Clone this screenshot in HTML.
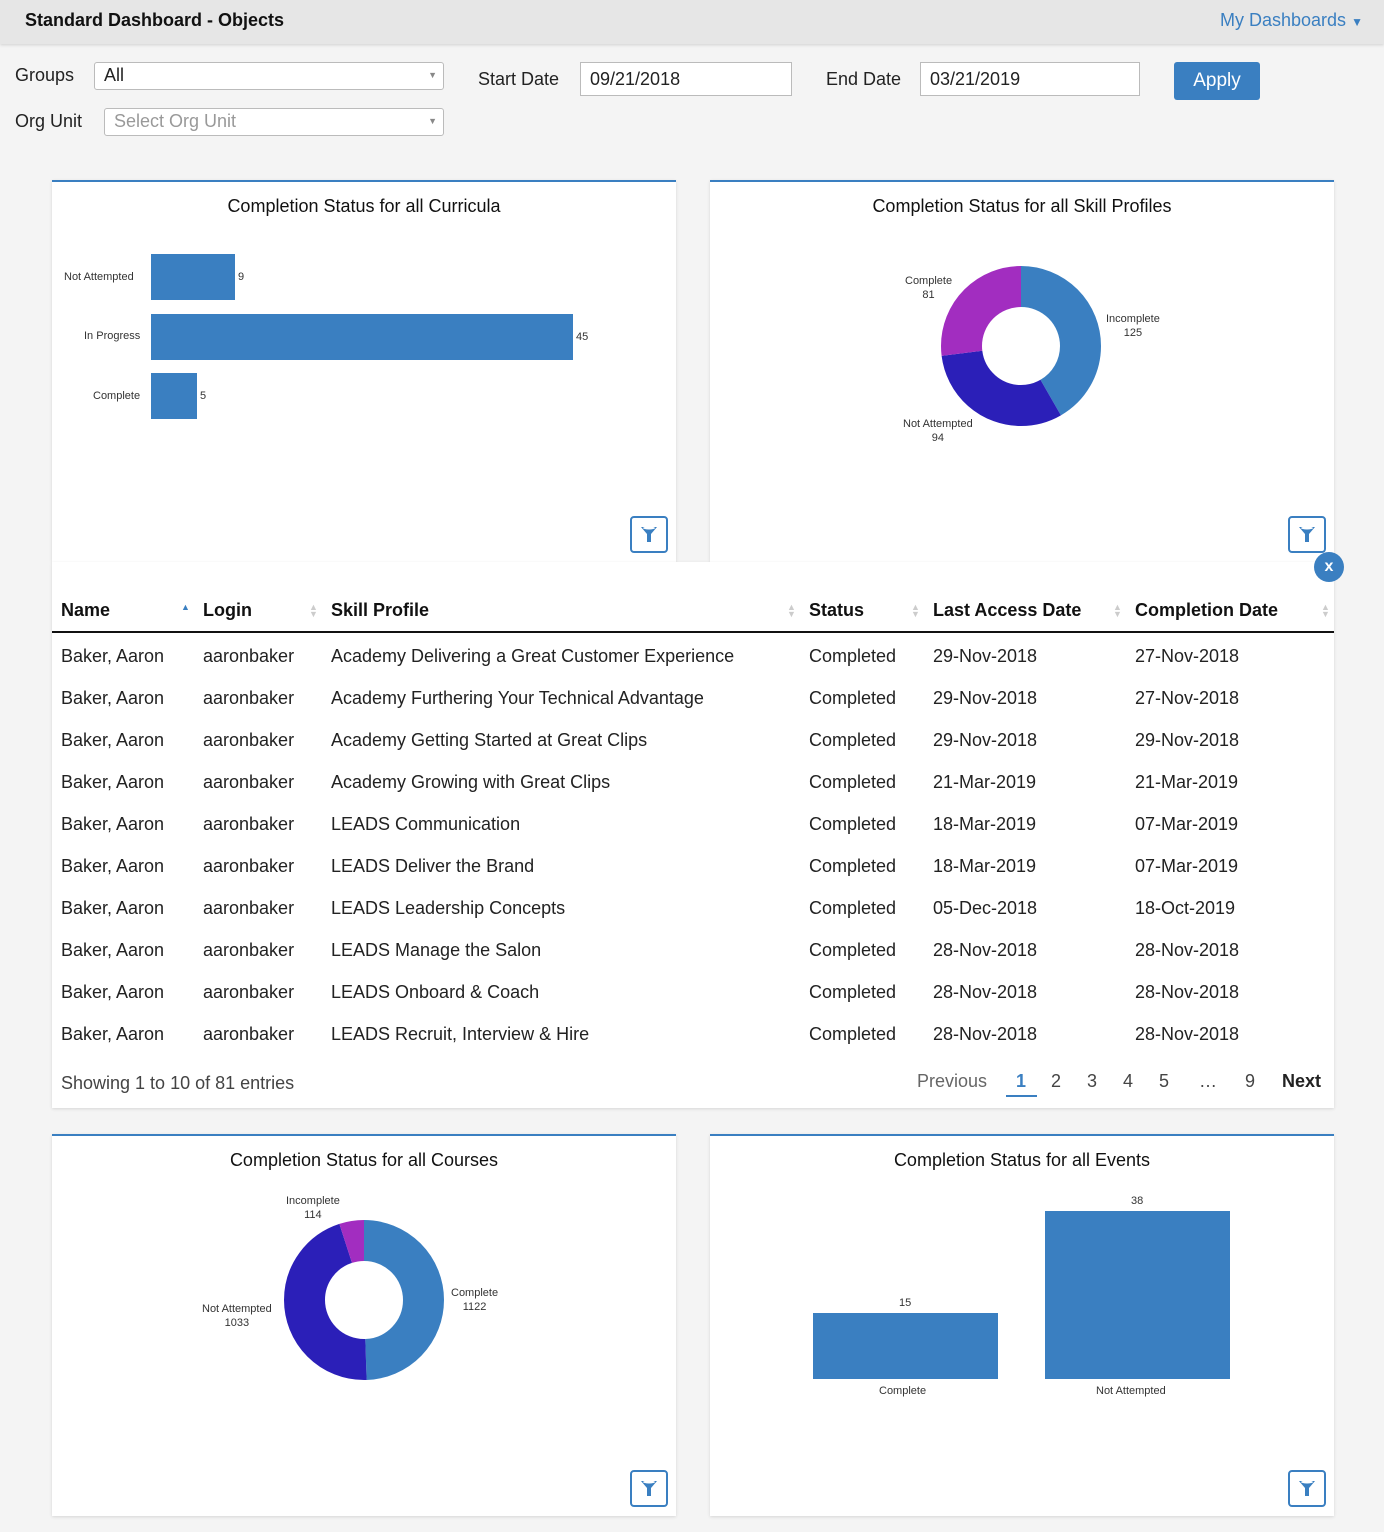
<!DOCTYPE html>
<html><head><meta charset="utf-8"><style>
*{margin:0;padding:0;box-sizing:border-box}
body{width:1384px;height:1532px;background:#f4f4f4;font-family:"Liberation Sans",sans-serif;color:#222;position:relative;overflow:hidden}
.a{position:absolute;white-space:nowrap}
.hdr{position:absolute;left:0;top:0;width:1384px;height:44px;background:#e6e6e6;box-shadow:0 1px 3px rgba(0,0,0,.15)}
.inp{position:absolute;background:#fff;border:1px solid #bbb;border-radius:3px;font-size:18px;padding-left:9px;line-height:24px}
.panel{position:absolute;background:#fff;border-top:2px solid #3a7fc1;box-shadow:0 1px 3px rgba(0,0,0,.12)}
.title{position:absolute;width:100%;text-align:center;font-size:18px;top:14px;color:#111}
.fb{position:absolute;width:38px;height:37px;border:2px solid #3a7fc1;border-radius:4px;background:#fff}
.sm{font-size:11px;color:#333}
.th{font-size:18px;font-weight:bold;color:#111;top:600px}
.td{font-size:18px;color:#222}
.bar{position:absolute;background:#3a7fc1}
.sort{position:absolute;font-size:9px;color:#ccc;line-height:7px;top:604px}
</style></head><body>
<div class="hdr"></div>
<div class="a" style="left:25px;top:10px;font-size:18px;font-weight:bold;color:#111">Standard Dashboard - Objects</div>
<div class="a" style="left:1220px;top:10px;font-size:18px;color:#3a7fc1">My Dashboards <span style="font-size:12px">▼</span></div>

<div class="a" style="left:15px;top:65px;font-size:18px">Groups</div>
<div class="inp" style="left:94px;top:62px;width:350px;height:28px">All<span class="a" style="right:6px;top:0;font-size:9px;color:#888">▼</span></div>
<div class="a" style="left:15px;top:111px;font-size:18px">Org Unit</div>
<div class="inp" style="left:104px;top:108px;width:340px;height:28px;color:#999">Select Org Unit<span class="a" style="right:6px;top:0;font-size:9px;color:#888">▼</span></div>
<div class="a" style="left:478px;top:69px;font-size:18px">Start Date</div>
<div class="inp" style="left:580px;top:62px;width:212px;height:34px;line-height:32px;border-radius:0">09/21/2018</div>
<div class="a" style="left:826px;top:69px;font-size:18px">End Date</div>
<div class="inp" style="left:920px;top:62px;width:220px;height:34px;line-height:32px;border-radius:0">03/21/2019</div>
<div class="a" style="left:1174px;top:62px;width:86px;height:38px;background:#3a7fc1;border-radius:3px;color:#fff;font-size:19px;text-align:center;line-height:38px">Apply</div>

<div class="panel" style="left:52px;top:180px;width:624px;height:382px">
<div class="title">Completion Status for all Curricula</div>
</div>
<div class="a sm" style="left:64px;top:271px">Not Attempted</div>
<div class="a sm" style="left:84px;top:330px">In Progress</div>
<div class="a sm" style="left:93px;top:390px">Complete</div>
<div class="bar" style="left:151px;top:254px;width:84px;height:46px"></div>
<div class="bar" style="left:151px;top:314px;width:422px;height:46px"></div>
<div class="bar" style="left:151px;top:373px;width:46px;height:46px"></div>
<div class="a sm" style="left:238px;top:271px">9</div>
<div class="a sm" style="left:576px;top:331px">45</div>
<div class="a sm" style="left:200px;top:390px">5</div>
<div class="fb" style="left:630px;top:516px"><svg width="34" height="33" viewBox="0 0 34 33"><path d="M9 9h16l-6 7v8h-4v-8z" fill="#3a7fc1"/><ellipse cx="17" cy="10" rx="6" ry="1.5" fill="#fff"/></svg></div>

<div class="panel" style="left:710px;top:180px;width:624px;height:382px">
<div class="title">Completion Status for all Skill Profiles</div>
</div>
<svg class="a" style="left:941px;top:266px" width="160" height="160" viewBox="0 0 160 160">
<g transform="rotate(-90 80 80)" fill="none" stroke-width="41">
<circle cx="80" cy="80" r="59.5" stroke="#3a7fc1" stroke-dasharray="155.77 373.85"/>
<circle cx="80" cy="80" r="59.5" stroke="#2b1fb8" stroke-dasharray="117.14 373.85" stroke-dashoffset="-155.77"/>
<circle cx="80" cy="80" r="59.5" stroke="#a22dc0" stroke-dasharray="100.94 373.85" stroke-dashoffset="-272.91"/>
</g></svg>
<div class="a sm" style="left:905px;top:274px;text-align:center;line-height:14px">Complete<br>81</div>
<div class="a sm" style="left:1106px;top:312px;text-align:center;line-height:14px">Incomplete<br>125</div>
<div class="a sm" style="left:903px;top:417px;text-align:center;line-height:14px">Not Attempted<br>94</div>
<div class="fb" style="left:1288px;top:516px"><svg width="34" height="33" viewBox="0 0 34 33"><path d="M9 9h16l-6 7v8h-4v-8z" fill="#3a7fc1"/><ellipse cx="17" cy="10" rx="6" ry="1.5" fill="#fff"/></svg></div>

<div class="a" style="left:52px;top:562px;width:1282px;height:546px;background:#fff;box-shadow:0 1px 3px rgba(0,0,0,.12)"></div>
<div class="a" style="left:1314px;top:552px;width:30px;height:30px;border-radius:15px;background:#3a7fc1;color:#fff;font-size:16px;font-weight:bold;text-align:center;line-height:30px">x</div>
<div class="a th" style="left:61px">Name</div>
<div class="a th" style="left:203px">Login</div>
<div class="a th" style="left:331px">Skill Profile</div>
<div class="a th" style="left:809px">Status</div>
<div class="a th" style="left:933px">Last Access Date</div>
<div class="a th" style="left:1135px">Completion Date</div>
<div class="sort" style="left:181px;color:#3a7fc1">▲</div>
<div class="sort" style="left:309px">▲<br>▼</div>
<div class="sort" style="left:787px">▲<br>▼</div>
<div class="sort" style="left:911px">▲<br>▼</div>
<div class="sort" style="left:1113px">▲<br>▼</div>
<div class="sort" style="left:1321px">▲<br>▼</div>
<div class="a" style="left:52px;top:631px;width:1282px;height:2px;background:#111"></div>

<div class="a td" style="left:61px;top:635px;line-height:42px">Baker, Aaron<br>Baker, Aaron<br>Baker, Aaron<br>Baker, Aaron<br>Baker, Aaron<br>Baker, Aaron<br>Baker, Aaron<br>Baker, Aaron<br>Baker, Aaron<br>Baker, Aaron</div>
<div class="a td" style="left:203px;top:635px;line-height:42px">aaronbaker<br>aaronbaker<br>aaronbaker<br>aaronbaker<br>aaronbaker<br>aaronbaker<br>aaronbaker<br>aaronbaker<br>aaronbaker<br>aaronbaker</div>
<div class="a td" style="left:331px;top:635px;line-height:42px">Academy Delivering a Great Customer Experience<br>Academy Furthering Your Technical Advantage<br>Academy Getting Started at Great Clips<br>Academy Growing with Great Clips<br>LEADS Communication<br>LEADS Deliver the Brand<br>LEADS Leadership Concepts<br>LEADS Manage the Salon<br>LEADS Onboard &amp; Coach<br>LEADS Recruit, Interview &amp; Hire</div>
<div class="a td" style="left:809px;top:635px;line-height:42px">Completed<br>Completed<br>Completed<br>Completed<br>Completed<br>Completed<br>Completed<br>Completed<br>Completed<br>Completed</div>
<div class="a td" style="left:933px;top:635px;line-height:42px">29-Nov-2018<br>29-Nov-2018<br>29-Nov-2018<br>21-Mar-2019<br>18-Mar-2019<br>18-Mar-2019<br>05-Dec-2018<br>28-Nov-2018<br>28-Nov-2018<br>28-Nov-2018</div>
<div class="a td" style="left:1135px;top:635px;line-height:42px">27-Nov-2018<br>27-Nov-2018<br>29-Nov-2018<br>21-Mar-2019<br>07-Mar-2019<br>07-Mar-2019<br>18-Oct-2019<br>28-Nov-2018<br>28-Nov-2018<br>28-Nov-2018</div>

<div class="a" style="left:61px;top:1073px;font-size:18px;color:#444">Showing 1 to 10 of 81 entries</div>
<div class="a" style="left:917px;top:1071px;font-size:18px;color:#666">Previous</div>
<div class="a" style="left:1016px;top:1071px;font-size:18px;color:#3a7fc1;font-weight:bold">1</div>
<div class="a" style="left:1006px;top:1095px;width:31px;height:2px;background:#3a7fc1"></div>
<div class="a" style="left:1051px;top:1071px;font-size:18px;color:#444">2</div>
<div class="a" style="left:1087px;top:1071px;font-size:18px;color:#444">3</div>
<div class="a" style="left:1123px;top:1071px;font-size:18px;color:#444">4</div>
<div class="a" style="left:1159px;top:1071px;font-size:18px;color:#444">5</div>
<div class="a" style="left:1199px;top:1071px;font-size:18px;color:#444">…</div>
<div class="a" style="left:1245px;top:1071px;font-size:18px;color:#444">9</div>
<div class="a" style="left:1282px;top:1071px;font-size:18px;color:#222;font-weight:bold">Next</div>

<div class="panel" style="left:52px;top:1134px;width:624px;height:382px">
<div class="title">Completion Status for all Courses</div>
</div>
<svg class="a" style="left:284px;top:1220px" width="160" height="160" viewBox="0 0 160 160">
<g transform="rotate(-90 80 80)" fill="none" stroke-width="41">
<circle cx="80" cy="80" r="59.5" stroke="#3a7fc1" stroke-dasharray="184.87 373.85"/>
<circle cx="80" cy="80" r="59.5" stroke="#2b1fb8" stroke-dasharray="170.2 373.85" stroke-dashoffset="-184.87"/>
<circle cx="80" cy="80" r="59.5" stroke="#a22dc0" stroke-dasharray="18.78 373.85" stroke-dashoffset="-355.07"/>
</g></svg>
<div class="a sm" style="left:286px;top:1194px;text-align:center;line-height:14px">Incomplete<br>114</div>
<div class="a sm" style="left:451px;top:1286px;text-align:center;line-height:14px">Complete<br>1122</div>
<div class="a sm" style="left:202px;top:1302px;text-align:center;line-height:14px">Not Attempted<br>1033</div>
<div class="fb" style="left:630px;top:1470px"><svg width="34" height="33" viewBox="0 0 34 33"><path d="M9 9h16l-6 7v8h-4v-8z" fill="#3a7fc1"/><ellipse cx="17" cy="10" rx="6" ry="1.5" fill="#fff"/></svg></div>

<div class="panel" style="left:710px;top:1134px;width:624px;height:382px">
<div class="title">Completion Status for all Events</div>
</div>
<div class="bar" style="left:813px;top:1313px;width:185px;height:66px"></div>
<div class="bar" style="left:1045px;top:1211px;width:185px;height:168px"></div>
<div class="a sm" style="left:899px;top:1297px">15</div>
<div class="a sm" style="left:1131px;top:1195px">38</div>
<div class="a sm" style="left:879px;top:1385px">Complete</div>
<div class="a sm" style="left:1096px;top:1385px">Not Attempted</div>
<div class="fb" style="left:1288px;top:1470px"><svg width="34" height="33" viewBox="0 0 34 33"><path d="M9 9h16l-6 7v8h-4v-8z" fill="#3a7fc1"/><ellipse cx="17" cy="10" rx="6" ry="1.5" fill="#fff"/></svg></div>
</body></html>
